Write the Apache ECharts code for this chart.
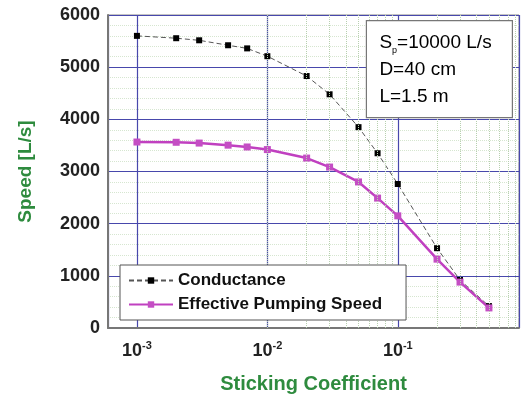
<!DOCTYPE html>
<html>
<head>
<meta charset="utf-8">
<script src="https://cdn.jsdelivr.net/npm/echarts@6/dist/echarts.min.js"></script>
<style>
  html, body { margin: 0; padding: 0; background: #fff; }
  #chart { width: 521px; height: 395px; }
</style>
</head>
<body>
<div id="chart"></div>
<script>
// sticking coefficient values
var coeff = [0.001, 0.002, 0.003, 0.005, 0.007, 0.01, 0.02, 0.03, 0.05, 0.07, 0.1, 0.2, 0.3, 0.5];
var conductance = [5600, 5555, 5515, 5420, 5360, 5210, 4830, 4480, 3850, 3350, 2760, 1530, 920, 420];
var effective = [3565, 3560, 3545, 3505, 3470, 3420, 3257, 3085, 2800, 2490, 2150, 1320, 880, 385];
// minor log grid positions
var minorX = [0.0007, 0.0008, 0.0009,
  0.002, 0.003, 0.004, 0.005, 0.006, 0.007, 0.008, 0.009,
  0.02, 0.03, 0.04, 0.05, 0.06, 0.07, 0.08, 0.09,
  0.2, 0.3, 0.4, 0.5, 0.6, 0.7, 0.8];

var chart = echarts.init(document.getElementById("chart"));

function pairs(ys) {
  return coeff.map(function (x, i) { return [x, ys[i]]; });
}

chart.setOption({
  animation: false,
  textStyle: { fontFamily: "Liberation Sans, Arial, sans-serif" },
  grid: {
    left: 108, right: 2, top: 15, bottom: 67,
    outerBoundsMode: "none",
    show: true, borderColor: "#888", borderWidth: 1
  },
  xAxis: {
    type: "log",
    logBase: 10,
    min: 0.0006,
    max: 0.85,
    name: "Sticking Coefficient",
    nameLocation: "middle",
    nameGap: 46,
    nameTextStyle: { color: "#2e8b3e", fontWeight: "bold", fontSize: 20 },
    axisLine: { lineStyle: { color: "#777", width: 2 } },
    axisTick: { show: false },
    splitLine: { show: true, lineStyle: { color: "#4848ac", width: 1.2 } },
    axisLabel: {
      margin: 12,
      formatter: function (v) {
        var e = Math.log10(v);
        if (Math.abs(e - Math.round(e)) > 1e-6) return "";
        return "{b|10}{s|" + Math.round(e) + "}";
      },
      rich: {
        b: { fontSize: 18, fontWeight: "bold", color: "#222" },
        s: { fontSize: 11, fontWeight: "bold", color: "#222", padding: [0, 0, 12, 0] }
      }
    }
  },
  yAxis: {
    type: "value",
    min: 0,
    max: 6000,
    interval: 1000,
    name: "Speed [L/s]",
    nameLocation: "middle",
    nameGap: 73,
    nameTextStyle: { color: "#2e8b3e", fontWeight: "bold", fontSize: 19 },
    axisLine: { show: true, lineStyle: { color: "#777", width: 2 } },
    axisTick: { show: false },
    axisLabel: {
      color: "#222", fontWeight: "bold", fontSize: 18, margin: 8,
      formatter: function (v) { return String(v); }
    },
    splitLine: { show: true, lineStyle: { color: "#4848ac", width: 1.2 } },
    minorTick: { show: false, splitNumber: 5 },
    minorSplitLine: { show: true, lineStyle: { color: "#d6e6d0", type: "dotted", width: 1 } }
  },
  legend: {
    orient: "vertical",
    left: 120,
    top: 265,
    z: 50,
    backgroundColor: "#fff",
    borderColor: "#555",
    borderWidth: 1,
    borderRadius: 0,
    padding: [7, 24, 7, 8],
    itemGap: 7,
    itemWidth: 44,
    itemHeight: 8,
    textStyle: { fontWeight: "bold", fontSize: 17, color: "#111" },
    data: ["Conductance", "Effective Pumping Speed"]
  },
  graphic: [{
    type: "group",
    right: 8,
    top: 20,
    z: 100,
    children: [{
      type: "rect",
      z: 100,
      shape: { x: 0, y: 0, width: 146, height: 97 },
      style: { fill: "#fff", stroke: "#777", lineWidth: 1.2 }
    }, {
      type: "text",
      z: 101,
      x: 13,
      y: 9,
      style: {
        text: "{m|S}{p|p}{m|=10000 L/s}\n{m|D=40 cm}\n{m|L=1.5 m}",
        rich: {
          m: { fontSize: 19, color: "#222", lineHeight: 27 },
          p: { fontSize: 9, color: "#222", padding: [15, 0, 0, 0] }
        }
      }
    }]
  }],
  series: [{
    name: "Minor",
    type: "line",
    data: [],
    silent: true,
    markLine: {
      silent: true,
      symbol: "none",
      label: { show: false },
      lineStyle: { color: "#b8d0b0", type: "dotted", width: 1 },
      data: minorX.map(function (x) { return { xAxis: x }; })
    }
  }, {
    name: "Conductance",
    type: "line",
    data: pairs(conductance),
    symbol: "rect",
    symbolSize: 6,
    itemStyle: { color: "#000" },
    lineStyle: { color: "#555", width: 1, type: [5, 3] }
  }, {
    name: "Effective Pumping Speed",
    type: "line",
    data: pairs(effective),
    symbol: "rect",
    symbolSize: 7,
    itemStyle: { color: "#c44ec4" },
    lineStyle: { color: "#c040c0", width: 2.5 }
  }]
});
</script>
</body>
</html>
